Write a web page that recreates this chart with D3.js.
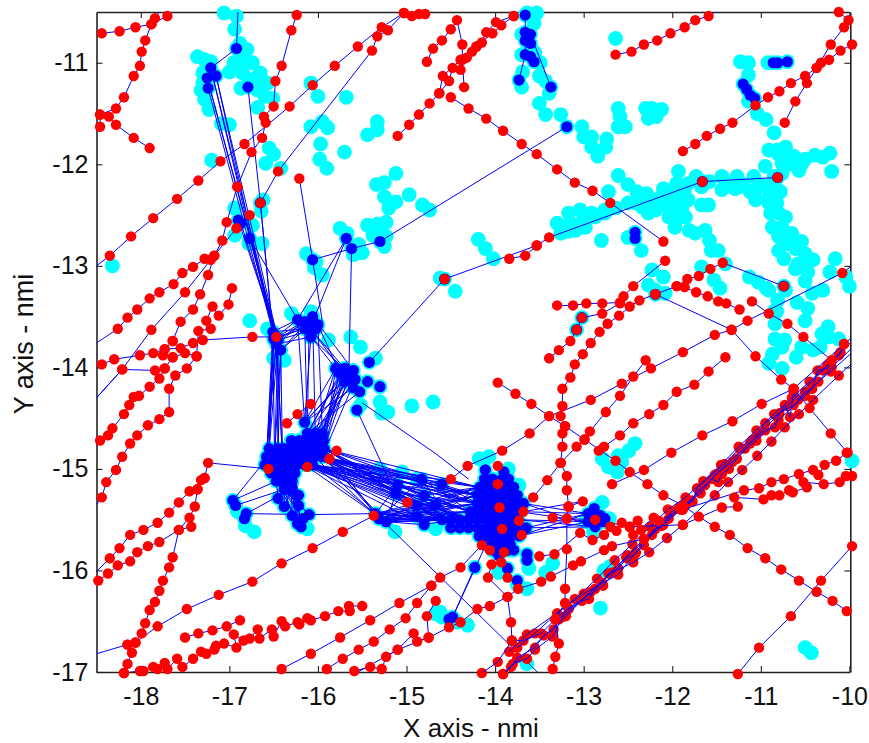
<!DOCTYPE html>
<html><head><meta charset="utf-8">
<script src="https://cdn.jsdelivr.net/npm/d3@7"></script>
<style>html,body{margin:0;padding:0;background:#fff}svg{display:block}
text{font-family:"Liberation Sans",Arial,sans-serif;fill:#111}</style></head><body>
<svg id="c" width="869" height="743"></svg>
<script>
const xTicks=[-18,-17,-16,-15,-14,-13,-12,-11,-10];
const yTicks=[-11,-12,-13,-14,-15,-16,-17];
const xLabel="X axis - nmi", yLabel="Y axis - nmi";

// red radar tracks
const trackA=[[-18.44,-10.71],[-18.24,-10.69],[-18.06,-10.65],[-17.88,-10.62],[-17.7,-10.54],[-17.6,-10.45]];
const trackB=[[-18.46,-11.63],[-18.46,-11.51],[-18.28,-11.45],[-18.19,-11.34],[-18.08,-11.13],[-18.01,-11.03],[-17.99,-10.89],[-17.95,-10.78],[-17.88,-10.62],[-17.84,-10.56],[-17.75,-10.45]];
const trackC=[[-18.46,-11.51],[-18.36,-11.53],[-18.28,-11.61],[-18.08,-11.74],[-17.9,-11.84]];
const trackD=[[-18.5,-13],[-18.35,-12.9],[-18.11,-12.71],[-17.86,-12.53],[-17.59,-12.34],[-17.35,-12.16],[-17.1,-11.97],[-16.83,-11.8],[-16.32,-11.43],[-16.06,-11.22],[-15.81,-11.03],[-15.55,-10.84],[-15.28,-10.65],[-15.03,-10.51]];
const trackE=[[-16.65,-12.38],[-16.45,-12.07],[-15.39,-10.88],[-15.33,-10.74],[-15.21,-10.68],[-15.03,-10.51],[-14.94,-10.54],[-14.86,-10.52],[-14.79,-10.52]];
const trackF=[[-16.91,-12.22],[-16.75,-11.88],[-16.63,-11.74],[-16.59,-11.59],[-16.61,-11.53],[-16.5,-11.43],[-16.48,-11.18],[-16.41,-11.03],[-16.3,-10.68],[-16.24,-10.53],[-16.22,-10.45]];
const trackG=[[-18.5,-13.76],[-18.26,-13.62],[-18.15,-13.51],[-18.04,-13.43],[-17.9,-13.32],[-17.79,-13.26],[-17.63,-13.18],[-17.53,-13.07],[-17.41,-13.01],[-17.28,-12.93],[-17.17,-12.9],[-17.08,-12.75],[-17.03,-12.57],[-16.91,-12.22]];
const trackH=[[-18.5,-14.3],[-18.21,-14.02],[-17.88,-13.63],[-17.5,-13.26],[-17.21,-12.94],[-16.92,-12.63],[-16.77,-12.5]];
const trackI=[[-17.64,-13.74],[-17.55,-13.55],[-17.41,-13.43],[-17.33,-13.28],[-17.24,-13.09],[-17.17,-12.9]];
const trackK=[[-18.44,-13.97],[-18.3,-13.92],[-18.01,-13.88],[-17.86,-13.86],[-17.73,-13.82],[-17.55,-13.81],[-17.41,-13.76],[-17.3,-13.73],[-16.74,-13.7],[-16.47,-13.7]];
const trackL=[[-17.75,-13.88],[-17.73,-13.82],[-17.64,-13.74]];
const trackM=[[-17.64,-13.9],[-17.5,-13.86],[-17.37,-13.89],[-17.35,-13.64],[-17.21,-13.62],[-17.26,-13.54],[-17.19,-13.4],[-17.12,-13.49],[-17.01,-13.38],[-16.97,-13.22]];
const trackN1=[[-18.5,-14.77],[-18.46,-14.72],[-18.37,-14.67],[-18.32,-14.6],[-18.19,-14.46],[-18.13,-14.37],[-18.08,-14.29],[-18.02,-14.28],[-17.9,-14.19],[-17.79,-14.11],[-17.73,-14.01],[-17.64,-13.9]];
const trackN2=[[-18.5,-15.35],[-18.44,-15.28],[-18.39,-15.13],[-18.28,-15.01],[-18.21,-14.88],[-18.12,-14.75],[-18.04,-14.67],[-17.92,-14.57],[-17.79,-14.51],[-17.68,-14.44],[-17.68,-14.21],[-17.61,-14.08],[-17.48,-14.01],[-17.37,-13.89]];
const trackN3=[[-18.5,-14.3],[-18.21,-14.02],[-17.84,-14.03],[-17.73,-14.01]];
const trackN=[[-18.48,-16.1],[-18.37,-16.03],[-18.26,-15.95],[-18.12,-15.91],[-18.04,-15.82],[-17.92,-15.76],[-17.79,-15.72],[-17.57,-15.6],[-17.45,-15.48],[-17.39,-15.37],[-17.36,-15.2],[-17.32,-15.11],[-17.28,-15.09],[-17.24,-14.94],[-16.56,-15]];
const trackO=[[-18.5,-16.01],[-18.35,-15.88],[-18.24,-15.78],[-18.12,-15.65],[-17.97,-15.6],[-17.81,-15.53],[-17.68,-15.43],[-17.57,-15.33],[-17.45,-15.22],[-17.36,-15.2],[-17.28,-15.09]];
const trackP=[[-17.43,-15.57],[-17.57,-15.6],[-17.64,-15.87],[-17.68,-15.97],[-17.75,-16.1],[-17.79,-16.2],[-17.84,-16.31],[-17.9,-16.39],[-17.95,-16.52],[-17.99,-16.62],[-18.06,-16.71],[-18.15,-16.73],[-18.1,-16.81],[-18.15,-16.92],[-18.19,-17.01]];
const trackQ=[[-18.5,-16.82],[-18.15,-16.73],[-18.06,-16.71],[-17.81,-16.55],[-17.48,-16.38],[-17.12,-16.24],[-16.74,-16.11],[-16.41,-15.93],[-16.06,-15.78],[-15.72,-15.62],[-15.37,-15.46]];
const trackR=[[-17.5,-16.66],[-17.35,-16.62],[-17.19,-16.59],[-17.03,-16.55],[-16.88,-16.49]];
const trackS=[[-18.19,-17.01],[-18.01,-16.99],[-17.97,-16.99],[-17.86,-16.95],[-17.81,-16.97],[-17.73,-16.91],[-17.7,-16.97],[-17.59,-16.87],[-17.53,-16.95],[-17.41,-16.87],[-17.32,-16.8],[-17.26,-16.82],[-17.17,-16.78],[-17.15,-16.74],[-17.06,-16.72],[-16.92,-16.76],[-16.95,-16.63],[-16.84,-16.69],[-16.77,-16.67],[-16.68,-16.58],[-16.66,-16.67],[-16.52,-16.58],[-16.5,-16.65],[-16.41,-16.5],[-16.37,-16.55],[-16.23,-16.51],[-16.21,-16.53],[-16.12,-16.47],[-16.08,-16.49],[-15.92,-16.45],[-15.77,-16.4],[-15.64,-16.4],[-15.65,-16.35],[-15.5,-16.35]];
const trackT=[[-16.5,-17.05],[-16.41,-16.97],[-16.08,-16.82],[-15.75,-16.66],[-15.41,-16.49],[-15.08,-16.32],[-14.72,-16.15],[-14.62,-16.07],[-14.39,-15.97],[-14.15,-15.75]];
const trackU=[[-16,-17.05],[-15.9,-16.97],[-15.72,-16.87],[-15.54,-16.78],[-15.37,-16.7],[-15.19,-16.58],[-15.01,-16.47],[-14.88,-16.32],[-14.72,-16.15]];
const trackV=[[-15.59,-16.99],[-15.41,-16.95],[-15.28,-16.97],[-15.23,-16.85],[-15.1,-16.78],[-14.92,-16.62],[-14.88,-16.7],[-14.75,-16.66],[-14.77,-16.45],[-14.67,-16.3]];
const trackV2=[[-15.65,-17.05],[-15.1,-16.78],[-14.75,-16.66],[-14.52,-16.56],[-14.39,-16.51],[-14.2,-16.38],[-14.06,-16.35],[-13.86,-16.26],[-13.74,-16.18],[-13.48,-16.11],[-13.37,-16.06],[-13.12,-15.95],[-13.03,-15.91],[-12.77,-15.8],[-12.68,-15.76],[-12.32,-15.69]];
const trackW=[[-13.35,-16.97],[-13.32,-16.85],[-13.28,-16.72],[-13.32,-16.48],[-13.21,-16.32],[-13.21,-16.18],[-13.19,-15.79],[-13.19,-15.49],[-13.17,-15.37],[-13.19,-15.21],[-13.19,-15.07],[-13.26,-14.94],[-13.24,-14.78],[-13.24,-14.65],[-13.21,-14.58],[-13.26,-14.48],[-13.24,-14.38],[-13.24,-14.21],[-13.15,-14.1],[-13.1,-13.97],[-13.01,-13.87],[-12.92,-13.76],[-12.82,-13.65],[-12.73,-13.57],[-12.6,-13.49],[-12.48,-13.4],[-12.37,-13.34],[-12.19,-13.28],[-11.95,-13.2],[-11.86,-13.21],[-11.73,-13.26],[-11.6,-13.3],[-11.48,-13.35],[-11.39,-13.37],[-11.24,-13.43]];
const trackX=[[-13.39,-13.91],[-13.28,-13.83],[-13.15,-13.74],[-13.08,-13.63],[-13.02,-13.51],[-12.79,-13.47],[-12.59,-13.37],[-12.55,-13.3],[-12.44,-13.2],[-12.08,-12.95]];
const trackY=[[-13.3,-13.39],[-13.12,-13.39],[-12.97,-13.37],[-12.79,-13.37],[-12.59,-13.36]];
const trackZ=[[-11.95,-13.2],[-11.83,-13.13],[-11.7,-13.1],[-11.57,-13.03],[-11.43,-12.97],[-10.74,-13.2]];
const trackAA=[[-12.19,-13.28],[-11.33,-13.63],[-11.06,-13.89],[-10.77,-14.12],[-10.63,-14.21],[-10.45,-14.4],[-10.21,-14.65],[-10.02,-14.84],[-9.9,-14.98]];
const trackAB=[[-9.9,-12.95],[-10.08,-13.07],[-11.15,-13.54],[-11.33,-13.63],[-11.52,-13.68],[-11.88,-13.85],[-12.24,-14.01],[-12.57,-14.16],[-12.92,-14.32],[-13.39,-14.48],[-13.61,-14.65],[-13.92,-14.82],[-14.31,-14.97],[-14.5,-15.1]];
const trackAC=[[-11.4,-13.9],[-11.59,-14.04],[-11.75,-14.17],[-11.95,-14.24],[-12.1,-14.37],[-12.26,-14.46],[-12.44,-14.55],[-12.59,-14.67],[-12.77,-14.78],[-12.83,-14.82]];
const trackAC2=[[-12.3,-13.93],[-12.44,-14.09],[-12.59,-14.28],[-12.75,-14.44],[-12.93,-14.63],[-12.99,-14.71],[-13.08,-14.78],[-13.26,-14.94]];
const trackAE=[[-12.68,-15.15],[-12.32,-15.01],[-12.01,-14.84],[-11.66,-14.67],[-11.32,-14.53],[-10.99,-14.36],[-10.63,-14.21],[-10.06,-13.77],[-9.9,-13.65]];
const trackAF=[[-11.1,-13.35],[-10.91,-13.47],[-10.7,-13.57],[-10.52,-13.7],[-10.2,-13.93]];
const trackAG=[[-14.5,-11.34],[-14.3,-11.45],[-14.1,-11.55],[-13.91,-11.67],[-13.7,-11.8],[-13.53,-11.9],[-13.3,-12.05],[-13.1,-12.18],[-12.9,-12.26],[-12.7,-12.38],[-12.1,-12.76]];
const trackAI=[[-14.57,-13.13],[-13.53,-12.8],[-13.39,-12.72],[-11.66,-12.17],[-10.81,-12.13]];
const trackAI2=[[-13.84,-12.93],[-13.66,-12.9],[-13.53,-12.8]];
const trackAJ=[[-12.64,-10.92],[-12.46,-10.89],[-12.32,-10.82],[-12.17,-10.78],[-12.02,-10.71],[-11.86,-10.65],[-11.74,-10.58],[-11.59,-10.54],[-11.48,-10.48]];
const trackAK=[[-11.88,-11.87],[-11.74,-11.8],[-11.61,-11.72],[-11.46,-11.65],[-11.32,-11.59],[-11.06,-11.42],[-10.92,-11.34],[-10.79,-11.28],[-10.66,-11.2],[-10.5,-11.13],[-10.37,-11.05],[-10.32,-11],[-10.23,-10.97],[-10.1,-10.88],[-9.97,-10.82]];
const trackAL=[[-10.73,-11.59],[-10.61,-11.38],[-10.48,-11.2],[-10.37,-11.05],[-10.21,-10.82],[-10.06,-10.65],[-10.01,-10.58],[-10.12,-10.5]];
const trackAM=[[-15.1,-11.72],[-14.97,-11.61],[-14.86,-11.51],[-14.74,-11.4],[-14.63,-11.3],[-14.52,-11.18],[-14.48,-11.05],[-14.39,-11.07],[-14.32,-10.95],[-14.26,-10.89],[-14.21,-10.84],[-14.15,-10.8],[-14.1,-10.7],[-13.99,-10.6],[-13.79,-10.54],[-13.7,-10.45]];
const trackAM2=[[-14.63,-11.3],[-14.59,-11.13],[-14.39,-10.97],[-14.21,-10.84],[-14.03,-10.71],[-13.93,-10.63],[-13.79,-10.54]];
const trackAN=[[-14.77,-10.99],[-14.7,-10.86],[-14.6,-10.78],[-14.5,-10.67],[-14.43,-10.58],[-14.37,-10.82],[-14.37,-10.97],[-14.35,-11.24]];
const trackAO=[[-13.97,-14.15],[-13.77,-14.26],[-13.59,-14.36],[-13.39,-14.48],[-13.21,-14.58],[-12.99,-14.71],[-12.64,-14.92],[-12.48,-15.03],[-12.28,-15.15],[-12.1,-15.26],[-11.88,-15.36],[-11.7,-15.47],[-11.52,-15.57],[-11.35,-15.65],[-11.15,-15.78],[-10.95,-15.88],[-10.77,-15.99],[-10.57,-16.1],[-10.37,-16.21],[-10.19,-16.3],[-10.03,-16.4],[-9.9,-16.48]];
const trackAP=[[-11.26,-17.02],[-11.02,-16.76],[-10.66,-16.45],[-10.32,-16.1],[-9.97,-15.76]];
const trackAQ=[[-13.35,-15.48],[-13.19,-15.49],[-12.87,-15.5],[-12.48,-15.57],[-11.88,-15.55],[-11.44,-15.38],[-11.26,-15.37],[-11.3,-15.28],[-10.97,-15.3],[-10.88,-15.26],[-10.79,-15.26],[-10.68,-15.21],[-10.64,-15.23],[-10.48,-15.18],[-10.52,-15.13],[-10.29,-15.15],[-10.11,-15.13],[-10.04,-15.07],[-9.97,-15.07]];
const trackAR=[[-11.88,-15.4],[-11.19,-15.21],[-11.02,-15.19],[-10.88,-15.13],[-10.74,-15.1],[-10.57,-15.05],[-10.41,-15.01],[-10.35,-15.06],[-10.28,-14.96],[-10.15,-14.92],[-10.03,-14.84]];
const trackAS=[[-13.5,-15.86],[-13.33,-15.84],[-13.04,-15.63],[-12.9,-15.7],[-12.77,-15.65],[-12.7,-15.57],[-12.63,-15.61],[-12.57,-15.53],[-12.48,-15.57],[-12.39,-15.51],[-12.35,-15.6],[-12.44,-15.65],[-12.21,-15.48],[-12.15,-15.51],[-11.9,-15.4]];
const trackAT=[[-13.57,-15.28],[-13.41,-15.11],[-13.26,-14.94]];
const trackAU=[[-13.68,-15.42],[-13.01,-15.32],[-13.17,-15.37]];
const trackAV=[[-13.86,-16.07],[-13.93,-15.92],[-14.04,-15.94],[-14.08,-16.07],[-13.86,-16.26],[-13.82,-16.51],[-13.81,-16.69]];
const trackAW=[[-16.08,-14.36],[-16.23,-14.46],[-16.35,-14.55]];
const trackB1=[[-14.15,-17.01],[-13.97,-16.9],[-13.81,-16.69],[-13.68,-16.69],[-13.48,-16.62],[-13.32,-16.48],[-13.17,-16.37],[-13.01,-16.28],[-12.78,-16.15],[-12.52,-15.87],[-12.32,-15.69],[-12.1,-15.55],[-12.01,-15.42],[-11.77,-15.32],[-11.72,-15.19],[-11.41,-14.95],[-11.24,-14.8],[-11.03,-14.64],[-10.95,-14.55],[-10.79,-14.45],[-10.63,-14.37],[-10.35,-14.14],[-10.21,-14.04],[-9.9,-13.8]];
const trackB2=[[-13.91,-17.02],[-13.8,-16.92],[-13.64,-16.87],[-13.55,-16.78],[-13.35,-16.65],[-13.24,-16.46],[-12.92,-16.21],[-12.68,-16.02],[-12.44,-15.92],[-12.26,-15.82],[-12.06,-15.68],[-11.88,-15.55],[-11.52,-15.26],[-11.37,-15.13],[-11.21,-15.01],[-11.04,-14.87],[-10.88,-14.73],[-10.73,-14.59],[-10.57,-14.46],[-10.41,-14.32],[-10.12,-14.08],[-9.9,-13.9]];
const trackB3=[[-13.84,-16.8],[-13.64,-16.63],[-13,-16.23],[-12.61,-16.04],[-12.41,-15.82],[-12.21,-15.6],[-11.88,-15.36],[-11.68,-15.24],[-11.52,-15.06],[-11.32,-14.93],[-11.05,-14.72],[-10.8,-14.52],[-10.5,-14.28],[-10.2,-14],[-9.9,-13.75]];
const trackB4=[[-13.95,-17.05],[-13.2,-16.45],[-12.5,-15.85],[-11.9,-15.4],[-11.5,-15.05],[-11.1,-14.72],[-10.7,-14.38],[-10.3,-14.03],[-9.9,-13.68]];
const trackB5=[[-13.91,-17.02],[-13.82,-16.95],[-13.75,-16.86],[-13.55,-16.76],[-13.45,-16.64],[-13.34,-16.58],[-13.28,-16.48],[-13.17,-16.38],[-13.02,-16.3],[-12.94,-16.28],[-12.87,-16.18],[-12.79,-16.12],[-12.72,-16.03],[-12.61,-15.98],[-12.51,-15.88],[-12.42,-15.84],[-12.32,-15.75],[-12.23,-15.65],[-12.19,-15.59],[-12.12,-15.56],[-12.04,-15.49],[-11.93,-15.39],[-11.85,-15.36],[-11.78,-15.31],[-11.7,-15.21],[-11.63,-15.16],[-11.55,-15.1],[-11.48,-15.13],[-11.44,-15.05],[-11.36,-15],[-11.27,-14.9],[-11.18,-14.8],[-11.12,-14.75],[-11.06,-14.7],[-10.95,-14.62],[-10.84,-14.59],[-10.8,-14.47],[-10.73,-14.37],[-10.67,-14.49],[-10.63,-14.24],[-10.58,-14.32],[-10.5,-14.24],[-10.42,-14.21],[-10.36,-14.03],[-10.25,-14.01],[-10.12,-13.88],[-10.06,-13.77]];
const trackB6=[[-13.75,-16.76],[-13.55,-16.62],[-13.3,-16.42],[-13.1,-16.28],[-12.85,-16.08],[-12.65,-15.9],[-12.45,-15.74],[-12.25,-15.57],[-12.05,-15.4],[-11.85,-15.28],[-11.65,-15.12],[-11.45,-14.96],[-11.25,-14.78],[-11.05,-14.62],[-10.85,-14.46],[-10.65,-14.3],[-10.45,-14.14],[-10.25,-13.98],[-10.1,-13.85]];
const redTracks=[trackA,trackB,trackC,trackD,trackE,trackF,trackG,trackH,trackI,trackK,trackL,trackM,trackN1,trackN2,trackN3,trackN,trackO,trackP,trackQ,trackR,trackS,trackT,trackU,trackV,trackV2,trackW,trackX,trackY,trackZ,trackAA,trackAB,trackAC,trackAC2,trackAE,trackAF,trackAG,trackAI,trackAI2,trackAJ,trackAK,trackAL,trackAM,trackAM2,trackAN,trackAO,trackAP,trackAQ,trackAR,trackAS,trackAT,trackAU,trackAV,trackAW,trackB1,trackB2,trackB3,trackB4,trackB5,trackB6];
const bundleTracks=[trackB1,trackB2,trackB3,trackB4,trackB5,trackB6];
const redAlone=[[-16.21,-12.14],[-15.79,-14.82],[-15.87,-14.9],[-16.12,-14.98],[-14.99,-15.33],[-13.97,-14.97],[-13.97,-15.15],[-13.95,-15.38],[-13.92,-15.59],[-13.73,-15.51],[-13.7,-15.65],[-14.06,-15.8],[-13.9,-15.82]];

// blue tracked nodes
const nodesC1=[[-17.21,-11.05],[-17.25,-11.15],[-17.15,-11.13],[-17.24,-11.25]];
const nodesSolo=[[-16.79,-11.24],[-16.92,-10.86],[-14.57,-13.13],[-11.66,-12.17],[-10.81,-12.13],[-12.19,-13.28],[-10.74,-13.2],[-13.02,-13.51],[-13.08,-13.63],[-12.42,-12.67],[-12.42,-12.73]];
const nodesMid=[[-16.65,-12.38],[-16.9,-12.55],[-16.87,-12.58],[-16.77,-12.73]];
const nodesUp=[[-16.06,-12.94],[-15.68,-12.73],[-15.62,-12.83],[-15.3,-12.76]];
const nodesC2=[[-16.51,-13.65],[-16.45,-13.73],[-16.42,-13.83],[-16.47,-13.7],[-16.47,-13.77],[-16.5,-13.72]];
const nodesC3=[[-16.23,-13.53],[-16.15,-13.55],[-16.06,-13.5],[-16,-13.58],[-16.08,-13.7],[-16.1,-13.6],[-16.15,-13.62],[-16.02,-13.62],[-16.05,-13.55]];
const nodesC4=[[-15.8,-14.01],[-15.7,-14.01],[-15.6,-14.03],[-15.75,-14.06],[-15.65,-14.06],[-15.66,-14.11],[-15.58,-14.12],[-15.7,-14.14],[-15.6,-14.2],[-15.53,-14.24]];
const nodesC4E=[[-15.42,-13.95],[-15.44,-14.14],[-15.3,-14.19],[-15.56,-14.42]];
const nodesC5=[[-16.15,-14.54],[-16.12,-14.65],[-16.03,-14.65],[-15.95,-14.65],[-16.3,-14.72],[-16.21,-14.72],[-16.12,-14.72],[-16.03,-14.72],[-15.94,-14.72],[-16.55,-14.8],[-16.38,-14.8],[-16.29,-14.8],[-16.2,-14.8],[-16.11,-14.8],[-16.02,-14.8],[-15.93,-14.8],[-16.58,-14.88],[-16.49,-14.88],[-16.4,-14.88],[-16.31,-14.88],[-16.22,-14.88],[-16.13,-14.88],[-16.04,-14.88],[-15.95,-14.88],[-16.6,-14.96],[-16.51,-14.96],[-16.42,-14.96],[-16.33,-14.96],[-16.24,-14.96],[-16.15,-14.96],[-16.06,-14.96],[-16.53,-15.04],[-16.44,-15.04],[-16.35,-15.04],[-16.26,-15.04],[-16.47,-15.12],[-16.38,-15.12],[-16.29,-15.12],[-16.38,-15.2],[-16.3,-15.2],[-16.45,-14.8]];
const nodesLow=[[-16.45,-15.29],[-16.38,-15.37],[-16.22,-15.26],[-16.22,-15.36],[-16.1,-15.45],[-16.29,-15.46],[-16.23,-15.54],[-16.19,-15.57],[-16.17,-15.49]];
const nodesLeft=[[-16.96,-15.31],[-16.93,-15.36],[-16.81,-15.44],[-16.83,-15.49]];
const nodesHub=[[-15.35,-15.44],[-15.23,-15.52],[-15.31,-15.49]];
const nodesC6=[[-15.1,-15.16],[-15.12,-15.24],[-14.83,-15.1],[-14.88,-15.47],[-14.8,-15.55],[-14.88,-15.36],[-14.8,-15.26],[-14.68,-15.36],[-14.6,-15.15]];
const nodesC7=[[-14.11,-15.01],[-13.9,-15.03],[-13.79,-15.18],[-14.12,-15.1],[-14.03,-15.1],[-13.92,-15.1],[-13.85,-15.1],[-14.17,-15.18],[-14.08,-15.18],[-13.99,-15.18],[-13.9,-15.18],[-13.81,-15.18],[-14.2,-15.26],[-14.11,-15.26],[-14.02,-15.26],[-13.93,-15.26],[-13.84,-15.26],[-13.75,-15.26],[-14.2,-15.34],[-14.11,-15.34],[-14.02,-15.34],[-13.93,-15.34],[-13.84,-15.34],[-13.75,-15.34],[-13.68,-15.34],[-14.28,-15.42],[-14.19,-15.42],[-14.1,-15.42],[-14.01,-15.42],[-13.92,-15.42],[-13.83,-15.42],[-13.74,-15.42],[-14.6,-15.5],[-14.5,-15.5],[-14.4,-15.5],[-14.3,-15.5],[-14.2,-15.5],[-14.1,-15.5],[-14.01,-15.5],[-13.92,-15.5],[-13.83,-15.5],[-13.74,-15.5],[-14.5,-15.58],[-14.4,-15.58],[-14.3,-15.58],[-14.2,-15.58],[-14.1,-15.58],[-14.01,-15.58],[-13.92,-15.58],[-13.83,-15.58],[-13.74,-15.58],[-13.65,-15.58],[-14.18,-15.66],[-14.09,-15.66],[-14,-15.66],[-13.91,-15.66],[-13.82,-15.66],[-13.73,-15.66],[-14.1,-15.74],[-14.01,-15.74],[-13.92,-15.74],[-13.83,-15.74],[-14.03,-15.8],[-13.94,-15.8],[-13.85,-15.8],[-13.96,-15.85],[-13.79,-15.8],[-13.64,-15.84],[-13.64,-15.9],[-13.86,-15.98],[-13.75,-16.1],[-14.23,-15.97]];
const nodesC8=[[-12.88,-15.39],[-12.95,-15.44],[-12.81,-15.46],[-12.76,-15.49],[-12.95,-15.52],[-12.87,-15.57],[-12.79,-15.52],[-12.87,-15.47]];
const nodesC9=[[-14.48,-16.46],[-14.52,-16.48]];
const nodesQ2=[[-13.66,-10.53],[-13.66,-10.7],[-13.6,-10.72],[-13.66,-10.78],[-13.6,-10.81],[-13.66,-10.92],[-13.6,-10.94],[-13.56,-10.99],[-13.73,-11.17],[-13.37,-11.24],[-13.19,-11.63]];
const nodesNE=[[-11.2,-11.21],[-11.16,-11.26],[-11.12,-11.32],[-11.07,-11.35]];
const nodesPair=[[-10.86,-11],[-10.81,-11],[-10.7,-10.99]];
const blueNodes=[nodesC1,nodesSolo,nodesMid,nodesUp,nodesC2,nodesC3,nodesC4,nodesC4E,nodesC5,nodesLow,nodesLeft,nodesHub,nodesC6,nodesC7,nodesC8,nodesC9,nodesQ2,nodesNE,nodesPair];

// narrow bundle ends where many association lines meet a cluster
const portC5N=[[-16.58,-14.88],[-16.55,-14.8],[-16.49,-14.88],[-16.45,-14.8],[-16.4,-14.88]];
const portC5T=[[-16.15,-14.54],[-16.12,-14.65],[-16.03,-14.65],[-15.95,-14.65]];
const portC5E=[[-15.93,-14.8],[-15.95,-14.88],[-16.04,-14.88],[-16.06,-14.96],[-16.15,-14.96]];
const portC5S=[[-16.47,-15.12],[-16.38,-15.2],[-16.3,-15.2],[-16.26,-15.04]];
const portC7W=[[-14.2,-15.26],[-14.2,-15.34],[-14.28,-15.42],[-14.3,-15.5],[-14.5,-15.5],[-14.6,-15.5],[-14.18,-15.18]];
const portC7E=[[-13.68,-15.34],[-13.74,-15.42],[-13.74,-15.5],[-13.65,-15.58],[-13.73,-15.66]];
const portC8W=[[-12.95,-15.44],[-12.95,-15.52],[-12.87,-15.57]];
const blueBundles=[[nodesC1,[nodesC2[0],nodesC2[3],nodesC2[1]],7],[nodesMid,nodesC2,4],[nodesC2,portC5N,16],[nodesC2,nodesC3,12],[nodesC3,portC5T,6],[nodesC3,nodesC4,6],[nodesC4,portC5T,14],[nodesC4,portC5E,8],[nodesLow,portC5S,18],[nodesLeft,portC5S,3],[portC5E,portC7W,30],[portC5E,nodesHub,6],[portC5E,nodesC6,12],[nodesHub,portC7W,21],[nodesHub,nodesC6,6],[nodesC6,portC7W,14],[portC7E,portC8W,10]];
const blueLinks=[[[-16.92,-10.86],[-17.21,-11.05]],[[-16.92,-10.86],[-16.9,-10.45]],[[-16.79,-11.24],[-16.65,-12.38],[-16.51,-13.65]],[[-16.77,-12.73],[-16.23,-13.53]],[[-16.21,-12.14],[-16.06,-12.94],[-15.95,-13.55]],[[-16.06,-12.94],[-15.62,-12.83],[-15.3,-12.76],[-13.19,-11.63]],[[-15.68,-12.73],[-16.23,-13.53]],[[-15.68,-12.73],[-16.08,-13.6]],[[-15.62,-12.83],[-15.65,-14.01]],[[-15.42,-13.95],[-14.57,-13.13]],[[-15.35,-15.44],[-13.5,-17.02]],[[-15.5,-14.35],[-14.67,-14.85],[-14.3,-15.1]],[[-15.56,-14.42],[-15.2,-15.1]],[[-16.1,-15.45],[-16.81,-15.44]],[[-16.1,-15.45],[-15.35,-15.44]],[[-16.96,-15.31],[-16.58,-14.9]],[[-15.93,-14.88],[-15.35,-15.44]],[[-14.1,-15.74],[-14.48,-16.46]],[[-14.23,-15.97],[-14.48,-16.46]],[[-13.66,-10.53],[-13.66,-10.7],[-13.66,-10.92],[-13.73,-11.17]],[[-13.6,-10.72],[-13.37,-11.24]],[[-11.06,-11.42],[-11.2,-11.21]],[[-10.86,-11],[-10.7,-10.99]],[[-13.02,-13.51],[-13.08,-13.63]]];

// light cyan detections
const cyanNW=[[-17.06,-10.51],[-16.92,-10.54],[-16.94,-10.67],[-16.88,-10.81],[-16.8,-10.87],[-17.36,-10.94],[-17.28,-10.97],[-17.21,-10.99],[-17.32,-11.27],[-17.28,-11.36],[-17.23,-11.46],[-17.09,-11.6],[-17,-11.61],[-17,-11.09],[-16.95,-11],[-16.85,-10.97],[-16.74,-11],[-16.65,-11.1],[-16.57,-11.2],[-16.87,-11.25],[-16.78,-11.17],[-16.68,-11.27],[-16.6,-11.33],[-16.51,-11.35],[-16.68,-11.44],[-16.85,-11.1],[-16.7,-11.15],[-17.3,-11.1],[-17.3,-11.2],[-16.08,-11.2],[-16,-11.33],[-15.68,-11.34],[-16.08,-11.63],[-15.95,-11.58],[-15.89,-11.64],[-15.97,-11.8],[-15.7,-11.88],[-15.98,-11.95],[-15.9,-12.04],[-15.44,-11.71],[-15.33,-11.58],[-15.33,-11.66],[-16.55,-11.84],[-16.5,-11.9],[-16.59,-11.99],[-16.42,-12.04],[-17.2,-11.96],[-18.32,-13]];
const cyanMid=[[-15.12,-12.09],[-15.34,-12.2],[-15.25,-12.18],[-15.25,-12.32],[-15.12,-12.37],[-15.2,-12.43],[-14.97,-12.3],[-14.82,-12.4],[-14.74,-12.45],[-15.44,-12.6],[-15.33,-12.59],[-15.23,-12.57],[-15.38,-12.7],[-15.23,-12.71],[-15.3,-12.65],[-15.75,-12.63],[-15.67,-12.68],[-15.54,-12.79],[-15.6,-12.89],[-15.5,-12.87],[-15.25,-12.81],[-16.13,-12.88],[-16.02,-12.96],[-15.95,-13.09],[-16.04,-13.02],[-16.64,-12.46],[-16.62,-12.35],[-16.94,-12.43],[-16.74,-12.6],[-16.94,-12.7],[-16.78,-12.78],[-16.63,-12.78],[-16.77,-13.54],[-16.57,-13.62],[-16.3,-13.47],[-16.08,-13.45],[-15.88,-13.73],[-15.63,-13.7],[-15.52,-13.8],[-16.5,-13.91],[-16.38,-13.93],[-15.35,-13.91],[-15.21,-14.44],[-15.28,-14.45],[-15.3,-14.34],[-15.52,-14.37],[-14.94,-14.38],[-14.7,-14.34]];
const cyanSouth=[[-16.72,-15.62],[-16.82,-15.56],[-16.91,-15.42],[-16.12,-15.59],[-15.13,-15.62],[-15.3,-15],[-15.05,-15.03],[-14.88,-15.1],[-14.65,-16.41],[-14.18,-14.9],[-14.07,-14.88],[-13.85,-15],[-13.73,-15.16],[-14.67,-15.59],[-13.64,-16.18],[-13.75,-16.14],[-13.43,-16.02],[-13.35,-15.93],[-13.62,-15.98],[-13.96,-16.02],[-12.77,-16],[-12.7,-15.96],[-12.81,-16.37],[-13.64,-16.92],[-10.5,-16.76],[-10.43,-16.81],[-9.97,-14.92],[-12.42,-14.75],[-12.49,-14.82],[-12.61,-14.87],[-12.79,-14.9],[-12.72,-14.98],[-12.62,-15.03],[-12.57,-14.93],[-12.79,-15.33],[-12.71,-15.49],[-12.98,-15.52],[-12.89,-15.62],[-14.62,-16.41],[-14.31,-16.54],[-14.43,-16.51],[-14.67,-16.43],[-14.6,-16.46]];
const cyanNorth=[[-12.64,-10.76],[-13.64,-10.51],[-13.53,-10.51],[-13.56,-10.61],[-13.7,-10.72],[-13.7,-10.92],[-13.55,-10.9],[-13.49,-11],[-13.69,-11.09],[-13.7,-11.24],[-13.5,-11.13],[-13.43,-11.18],[-13.39,-11.3],[-13.5,-11.4],[-13.43,-11.51],[-13.26,-11.51],[-13.02,-11.63],[-13,-11.73],[-12.91,-11.73],[-12.74,-11.75],[-12.75,-11.83],[-12.91,-11.83],[-12.84,-11.92],[-12.61,-11.45],[-12.59,-11.53],[-12.61,-11.63],[-12.53,-11.63],[-12.3,-11.45],[-12.23,-11.45],[-12.12,-11.46],[-12.27,-11.55],[-12.18,-11.53]];
const cyanBand=[[-12.61,-12.11],[-12.5,-12.2],[-12.72,-12.27],[-12.4,-12.27],[-12.29,-12.29],[-12.5,-12.38],[-12.34,-12.42],[-12.19,-12.45],[-12.04,-12.43],[-11.89,-12.43],[-11.93,-12.53],[-11.81,-12.65],[-11.74,-12.68],[-11.63,-12.65],[-11.58,-12.75],[-11.56,-12.85],[-11.48,-12.85],[-12.1,-12.24],[-11.93,-12.07],[-11.95,-12.19],[-11.86,-12.25],[-11.73,-12.12],[-11.58,-12.17],[-11.44,-12.12],[-11.44,-12.25],[-11.27,-12.12],[-11.29,-12.24],[-11.08,-12.12],[-11.12,-12.27],[-11.06,-12.35],[-10.95,-12.02],[-10.91,-12.22],[-10.78,-12.27],[-10.82,-12.38],[-10.89,-12.48],[-10.72,-12.52],[-10.87,-12.62],[-10.8,-12.71],[-10.65,-12.68],[-10.54,-12.76],[-10.8,-12.85],[-10.74,-12.93],[-10.61,-12.83],[-10.5,-12.88],[-10.41,-12.94],[-10.61,-13.03],[-10.47,-13.06],[-10.42,-13.27],[-10.3,-13.24],[-10.59,-13.36],[-10.47,-13.42],[-10.5,-13.54],[-10.16,-12.93],[-10.22,-13.06],[-10.04,-13.11],[-10,-13.2],[-12.2,-12.35],[-12,-12.3],[-11.85,-12.35],[-11.65,-12.2],[-11.35,-12.2],[-11.2,-12.2],[-11,-12.2],[-10.85,-12.12],[-10.9,-12.3],[-10.5,-13.15],[-10.55,-13],[-10.7,-12.78],[-12.42,-12.38],[-12.27,-12.35],[-12.12,-12.38],[-11.97,-12.35],[-11.82,-12.35],[-12.04,-12.52],[-11.85,-12.52],[-12.27,-12.48],[-11.97,-12.62],[-12.12,-12.32],[-11.93,-12.29],[-11.82,-12.19],[-11.67,-12.22],[-11.25,-12.22],[-10.91,-12.32],[-10.8,-12.48],[-10.76,-12.62],[-10.69,-12.78],[-10.58,-12.98],[-10.91,-12.38],[-10.84,-12.22],[-11.06,-12.25]];
const cyanEast=[[-10.91,-11.86],[-10.72,-11.83],[-10.63,-11.92],[-10.57,-12.06],[-10.39,-11.91],[-10.22,-11.89],[-10.2,-12.07],[-10.76,-11.99],[-10.85,-11.69],[-10.94,-11.56],[-11.04,-11.5],[-11.14,-11.38],[-11.23,-10.99],[-11.14,-11],[-11.14,-11.12],[-10.92,-11],[-11.67,-12.4],[-11.59,-12.4],[-11.4,-12.98],[-11.67,-13.01],[-11.53,-13.14],[-11.46,-13.22],[-12.23,-13.04],[-12.27,-13.19],[-12.1,-13.11],[-12.08,-13.27],[-12.19,-13.24],[-11.13,-13.11],[-10.94,-13.22],[-10.81,-13.34],[-10.72,-13.24],[-10.84,-13.57],[-10.84,-13.72],[-10.87,-13.87],[-10.76,-13.8],[-10.6,-13.9],[-10.41,-13.83],[-10.31,-13.67],[-10.24,-13.6],[-10.12,-13.72],[-10.91,-13.96],[-10.76,-14.01],[-10.8,-11.9],[-10.5,-11.95],[-10.3,-11.93],[-10.68,-12],[-11.03,-13.16],[-10.82,-13.45],[-10.72,-11.89],[-10.82,-11.86],[-10.76,-12.09],[-10.54,-12],[-10.84,-13.44],[-10.91,-13.24],[-10.73,-13.73],[-10.54,-13.8],[-10.24,-13.7],[-10.33,-13.8]];
const cyanBandW=[[-13.3,-12.58],[-13.17,-12.48],[-13.04,-12.45],[-12.91,-12.48],[-12.76,-12.48],[-12.64,-12.43],[-13.26,-12.68],[-13.09,-12.65],[-12.98,-12.62],[-13.17,-12.66],[-12.8,-12.75],[-14.19,-12.74],[-14.11,-12.83],[-14.02,-12.93],[-14.45,-13.25],[-14.62,-13.12],[-12.5,-12.72],[-12.35,-12.85],[-12.87,-12.52],[-13.02,-12.57],[-13.15,-12.58],[-12.76,-12.45]];
const cyanGroups=[cyanNW,cyanMid,cyanSouth,cyanNorth,cyanBand,cyanEast,cyanBandW];

const colRed="#ff0000", colBlue="#0000ff", colCyan="#00ffff";
const L=96.5,R=850.3,T=12,B=672;
const x=d3.scaleLinear().domain([-18.5,-10]).range([L,R-0.9]);
const y=d3.scaleLinear().domain([-10.5,-17]).range([T,B]);
const svg=d3.select("#c");
svg.append("defs").append("clipPath").attr("id","plot").append("rect")
  .attr("x",L).attr("y",T).attr("width",R-L).attr("height",B-T);
const inView=p=>p[0]>-18.495&&p[0]<-9.96&&p[1]>-17.03&&p[1]<-10.495;
const line=d3.line().x(d=>x(d[0])).y(d=>y(d[1]));

function styleAxis(g){g.selectAll("path").attr("stroke","#222").attr("stroke-width",1.6);
  g.selectAll("line").attr("stroke","#222").attr("stroke-width",1.1);
  g.selectAll("text").attr("font-size",25).attr("font-family",'"Liberation Sans",Arial,sans-serif').attr("fill","#111");}
const gb=svg.append("g").attr("transform",`translate(0,${B})`).call(d3.axisBottom(x).tickValues(xTicks).tickSize(-6).tickPadding(15).tickFormat(String).tickSizeOuter(0));
gb.call(styleAxis);
const gl=svg.append("g").attr("transform",`translate(${L},0)`).call(d3.axisLeft(y).tickValues(yTicks).tickSize(-6).tickPadding(8).tickFormat(String).tickSizeOuter(0));
gl.call(styleAxis);
const gt=svg.append("g").attr("transform",`translate(0,${T})`).call(d3.axisTop(x).tickValues(xTicks).tickSize(-6).tickFormat("").tickSizeOuter(0));
gt.call(styleAxis);
const gr=svg.append("g").attr("transform",`translate(${R},0)`).call(d3.axisRight(y).tickValues(yTicks).tickSize(-6).tickFormat("").tickSizeOuter(0));
gr.call(styleAxis);

svg.append("text").attr("x",471).attr("y",737).attr("text-anchor","middle").attr("font-size",26).text(xLabel);
svg.append("text").attr("transform","translate(33,344) rotate(-90)").attr("text-anchor","middle").attr("font-size",27).text(yLabel);

// cyan layer (every blue node sits on a cyan detection)
const cyanAll=cyanGroups.flat().concat(blueNodes.flat());
svg.append("g").selectAll("circle").data(cyanAll.filter(inView)).join("circle")
  .attr("cx",d=>x(d[0])).attr("cy",d=>y(d[1])).attr("r",7.4).attr("fill",colCyan);

// blue nodes and association bundles
const bundleSegs=[];
blueBundles.forEach(([a,b,n])=>{for(let i=0;i<n;i++){bundleSegs.push([a[i%a.length],b[i%b.length]]);}});
const gLines=svg.append("g").attr("clip-path","url(#plot)").attr("fill","none").attr("stroke",colBlue).attr("stroke-width",1);
gLines.selectAll("path").data(bundleSegs.concat(blueLinks)).join("path").attr("d",line);
svg.append("g").selectAll("circle").data(blueNodes.flat().filter(inView)).join("circle")
  .attr("cx",d=>x(d[0])).attr("cy",d=>y(d[1])).attr("r",5.6).attr("fill",colBlue);

// red markers and their track lines; bundle lines stay visible on top of their markers
const bundlePts=bundleTracks.flat().filter(inView);
svg.append("g").selectAll("circle").data(bundlePts).join("circle")
  .attr("cx",d=>x(d[0])).attr("cy",d=>y(d[1])).attr("r",5.2).attr("fill",colRed);
const gTracks=svg.append("g").attr("clip-path","url(#plot)").attr("fill","none").attr("stroke",colBlue).attr("stroke-width",1);
gTracks.selectAll("path").data(redTracks).join("path").attr("d",line);
const otherPts=redTracks.filter(t=>!bundleTracks.includes(t)).flat().concat(redAlone).filter(inView);
svg.append("g").selectAll("circle").data(otherPts).join("circle")
  .attr("cx",d=>x(d[0])).attr("cy",d=>y(d[1])).attr("r",5.2).attr("fill",colRed);
</script></body></html>
